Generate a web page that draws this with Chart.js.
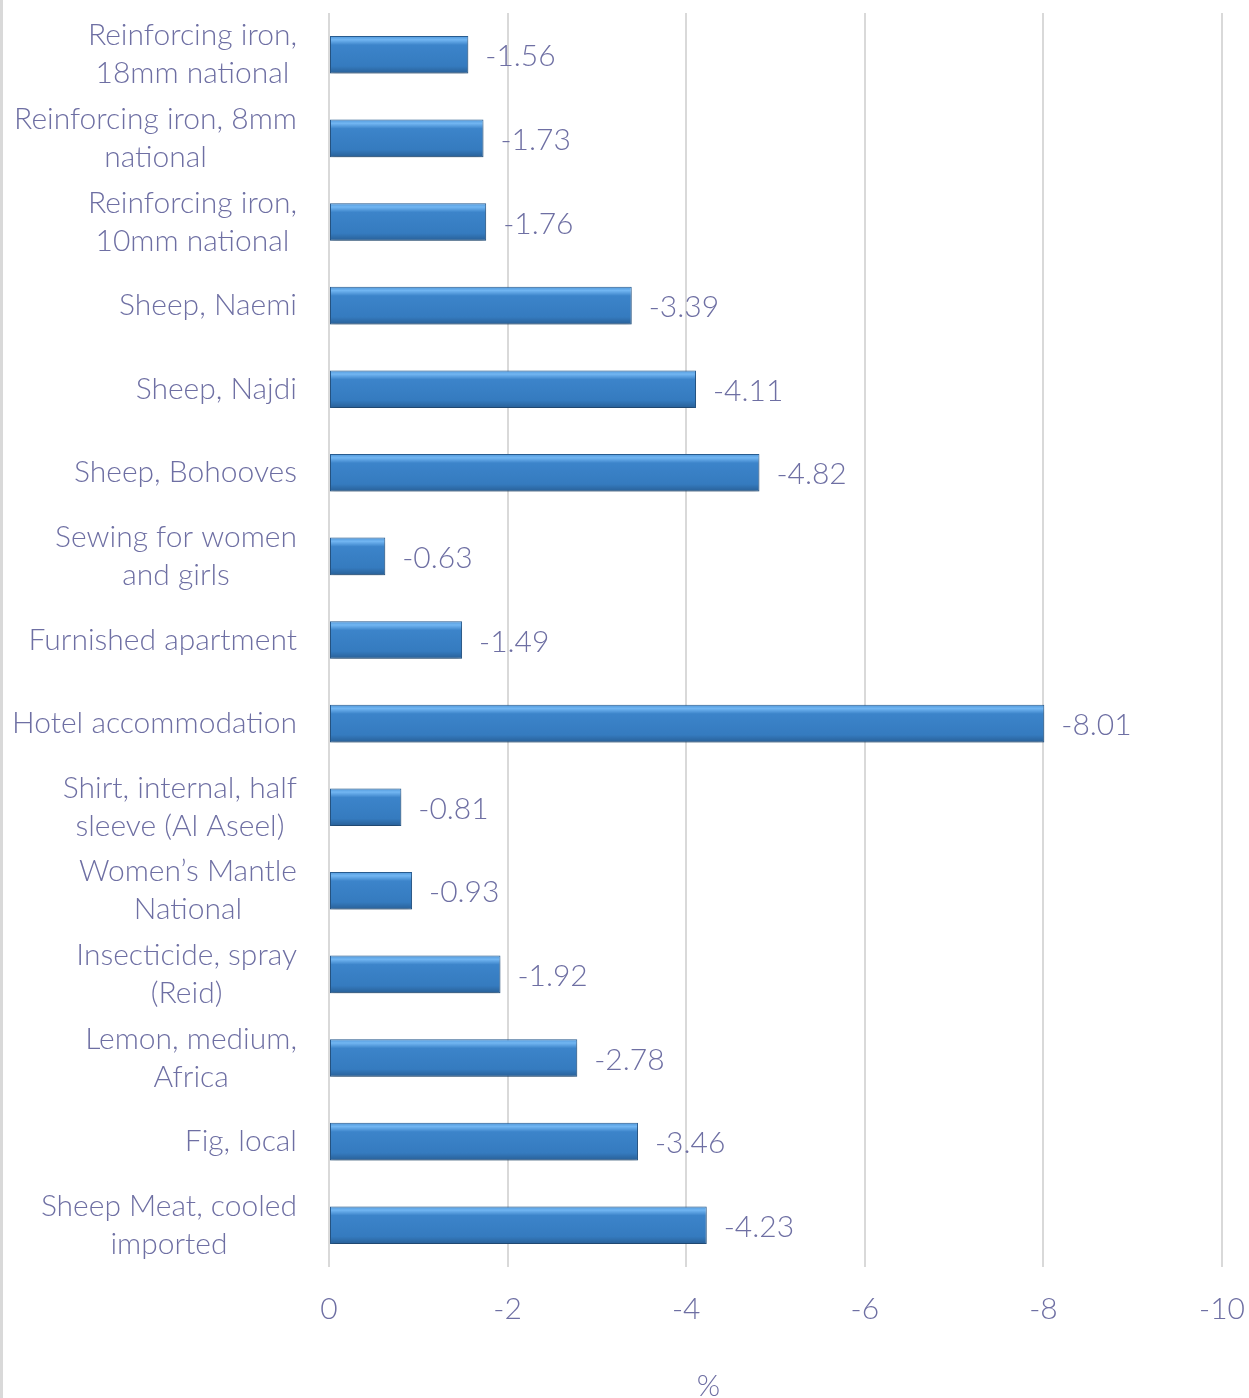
<!DOCTYPE html>
<html>
<head>
<meta charset="utf-8">
<script src="https://cdn.jsdelivr.net/npm/chart.js@4.4.1/dist/chart.umd.min.js"></script>
<style>
  html, body { margin: 0; padding: 0; background: #ffffff; }
  #chart-container {
    position: relative;
    width: 1249px;
    height: 1398px;
    box-sizing: border-box;
    border-left: 3px solid #d9d9d9;
  }
</style>
</head>
<body>
<div id="chart-container">
  <canvas id="priceChart"></canvas>
</div>
<script>
// Categories (top to bottom)
const categories = [
  ['Reinforcing iron,', '18mm national'],
  ['Reinforcing iron, 8mm', 'national'],
  ['Reinforcing iron,', '10mm national'],
  'Sheep, Naemi',
  'Sheep, Najdi',
  'Sheep, Bohooves',
  ['Sewing for women', 'and girls'],
  'Furnished apartment',
  'Hotel accommodation',
  ['Shirt, internal, half', 'sleeve (Al Aseel)'],
  ['Women\u2019s Mantle', 'National'],
  ['Insecticide, spray', '(Reid)'],
  ['Lemon, medium,', 'Africa'],
  'Fig, local',
  ['Sheep Meat, cooled', 'imported']
];

// Percentage change
const changeValues = [-1.56, -1.73, -1.76, -3.39, -4.11, -4.82, -0.63, -1.49, -8.01, -0.81, -0.93, -1.92, -2.78, -3.46, -4.23];

const axisMin = -10;
const axisMax = 0;
const axisStep = 2;
const axisTitle = '%';

const textColor = '#6e6fa3';
const fontFamily = "Lato, 'Open Sans', sans-serif";
const labelFont = '300 30px ' + fontFamily;

// Bevelled blue fill for each bar, built from its own geometry
const barBevel = {
  id: 'barBevel',
  beforeDatasetsDraw(chart) {
    const ctx = chart.ctx;
    chart.getDatasetMeta(0).data.forEach((bar) => {
      const top = bar.y - bar.height / 2;
      const bottom = bar.y + bar.height / 2;
      const grad = ctx.createLinearGradient(0, top, 0, bottom);
      grad.addColorStop(0, '#4f97da');
      grad.addColorStop(0.1, '#72b6f2');
      grad.addColorStop(0.24, '#3c84ca');
      grad.addColorStop(0.8, '#357bbf');
      grad.addColorStop(1, '#285f96');
      // each bar gets its own options object so the gradients don't collide
      bar.options = Object.assign({}, bar.options, { backgroundColor: grad });
    });
    ctx.save();
    ctx.shadowColor = 'rgba(0,0,0,0.3)';
    ctx.shadowBlur = 6;
    ctx.shadowOffsetY = 3;
  },
  afterDatasetsDraw(chart) {
    chart.ctx.restore();
  }
};

// Category labels: block right-aligned to the axis, lines centred in the block
const categoryLabels = {
  id: 'categoryLabels',
  afterDraw(chart) {
    const ctx = chart.ctx;
    const yScale = chart.scales.y;
    const right = chart.chartArea.left - 32;
    const lineGap = 38;
    ctx.save();
    ctx.font = labelFont;
    ctx.fillStyle = textColor;
    ctx.textBaseline = 'middle';
    ctx.textAlign = 'center';
    categories.forEach((label, i) => {
      const lines = Array.isArray(label) ? label : [label];
      const maxW = Math.max(...lines.map(l => ctx.measureText(l).width));
      const cx = right - maxW / 2;
      const cy = yScale.getPixelForValue(i);
      const y0 = cy - (lines.length - 1) * lineGap / 2;
      lines.forEach((line, j) => ctx.fillText(line, cx, y0 + j * lineGap));
    });
    ctx.restore();
  }
};

// Value labels after the bar ends and the axis title
const valueLabels = {
  id: 'valueLabels',
  afterDraw(chart) {
    const ctx = chart.ctx;
    ctx.save();
    ctx.font = labelFont;
    ctx.fillStyle = textColor;
    ctx.textBaseline = 'middle';
    ctx.textAlign = 'left';
    chart.getDatasetMeta(0).data.forEach((bar, i) => {
      ctx.fillText(changeValues[i].toFixed(2), bar.x + 17, bar.y + 2);
    });
    ctx.textAlign = 'center';
    ctx.fillText(axisTitle, chart.chartArea.left + (chart.chartArea.right - chart.chartArea.left) * 0.425, 1386);
    ctx.restore();
  }
};

const ctx = document.getElementById('priceChart').getContext('2d');
new Chart(ctx, {
  type: 'bar',
  data: {
    labels: categories,
    datasets: [{
      data: changeValues,
      backgroundColor: '#3b82c8',
      borderColor: '#2a5f94',
      borderWidth: 1,
      borderSkipped: false,
      categoryPercentage: 1.0,
      barPercentage: 0.45
    }]
  },
  options: {
    indexAxis: 'y',
    responsive: true,
    maintainAspectRatio: false,
    animation: false,
    layout: { padding: { top: 13, right: 0, bottom: 0, left: 0 } },
    plugins: {
      legend: { display: false },
      tooltip: { enabled: false }
    },
    scales: {
      x: {
        type: 'linear',
        min: axisMin,
        max: axisMax,
        reverse: true,
        ticks: {
          stepSize: axisStep,
          color: textColor,
          font: { family: fontFamily, size: 30, weight: 300 },
          padding: 24
        },
        grid: {
          color: '#d9d9d9',
          lineWidth: 2,
          drawTicks: false
        },
        border: { display: false },
        afterFit(scale) {
          scale.height = 131;
          scale.paddingLeft = 0;
          scale.paddingRight = 27;
        }
      },
      y: {
        ticks: { display: false },
        grid: { display: false },
        border: { display: false },
        afterFit(scale) {
          scale.width = 326;
          scale.paddingTop = 0;
          scale.paddingBottom = 0;
        }
      }
    }
  },
  plugins: [barBevel, categoryLabels, valueLabels]
});
</script>
</body>
</html>
